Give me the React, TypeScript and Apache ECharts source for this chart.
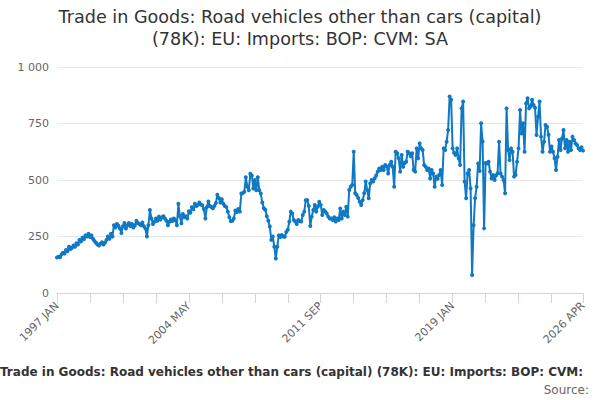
import React, { useEffect, useRef } from "react";
import * as echarts from "echarts";

const titleLines = [
  "Trade in Goods: Road vehicles other than cars (capital)",
  "(78K): EU: Imports: BOP: CVM: SA",
];
const footerText =
  "Trade in Goods: Road vehicles other than cars (capital) (78K): EU: Imports: BOP: CVM:";
const sourceText = "Source:";

const startYear = 1997;
const monthNames = ["JAN", "FEB", "MAR", "APR", "MAY", "JUN", "JUL", "AUG", "SEP", "OCT", "NOV", "DEC"];
const monthCount = 352; // 1997 JAN .. 2026 APR

const values1997to2001 = [
  157, 160, 158, 170, 178, 175, 190, 185, 205, 195, 200, 210,
  205, 220, 215, 235, 228, 245, 238, 255, 250, 262, 248, 255,
  240, 230, 222, 215, 210, 218, 225, 215, 222, 235, 250, 240,
  262, 250, 300, 290, 305, 298, 285, 265, 295, 310, 285, 300,
  310, 295, 305, 290, 300, 320, 310, 305, 300, 312, 295, 285,
];
const values2002to2006 = [
  250, 300, 367, 330, 305, 315, 330, 320, 338, 325, 335, 340,
  330, 320, 300, 315, 325, 318, 330, 322, 300, 395, 340, 308,
  350, 335, 340, 330, 362, 355, 380, 370, 395, 385, 390, 400,
  392, 388, 372, 330, 380, 405, 385, 380, 375, 385, 398, 435,
  420, 400, 415, 395, 385, 380, 360, 335, 318, 320, 330, 365,
];
const values2007to2011 = [
  358, 372, 360, 440, 442, 448, 512, 470, 455, 528, 520, 462,
  500, 455, 512, 455, 440, 400, 375, 368, 340, 320, 294, 235,
  250, 205, 153, 205, 255, 248, 257, 250, 249, 270, 280, 315,
  360, 352, 323, 316, 305, 323, 318, 316, 345, 360, 410, 411,
  385, 296, 338, 367, 389, 360, 382, 404, 389, 345, 367, 360,
];
const values2012to2016 = [
  352, 338, 330, 330, 323, 335, 316, 330, 323, 374, 330, 360,
  345, 382, 338, 456, 470, 478, 625, 441, 434, 420, 404, 389,
  411, 441, 493, 456, 419, 485, 500, 493, 508, 520, 537, 551,
  544, 559, 544, 566, 560, 529, 566, 581, 559, 470, 625, 618,
  596, 537, 611, 559, 575, 581, 625, 618, 605, 618, 544, 537,
];
const values2017to2021 = [
  640, 596, 662, 640, 633, 566, 559, 544, 551, 507, 544, 529,
  470, 515, 505, 522, 544, 478, 640, 633, 669, 721, 869, 855,
  640, 620, 611, 640, 596, 566, 817, 847, 493, 419, 529, 544,
  463, 80, 300, 419, 470, 573, 540, 751, 670, 286, 575, 573,
  581, 537, 507, 522, 500, 520, 530, 669, 529, 515, 500, 441,
];
const values2022to2026 = [
  817, 633, 588, 640, 625, 515, 522, 581, 640, 810, 706, 751,
  625, 839, 862, 817, 825, 855, 832, 820, 699, 780, 847, 692,
  625, 669, 743, 736, 700, 625, 648, 625, 596, 544, 603, 677,
  633, 684, 721, 640, 677, 625, 669, 633, 692, 677, 662, 655,
  640, 633, 645, 630,
];

const seriesValues = [
  ...values1997to2001,
  ...values2002to2006,
  ...values2007to2011,
  ...values2012to2016,
  ...values2017to2021,
  ...values2022to2026,
];

const categories: string[] = [];
for (let i = 0; i < monthCount; i++) {
  categories.push(`${startYear + Math.floor(i / 12)} ${monthNames[i % 12]}`);
}

const labelStep = 88;
const tickStep = 22;

export default function App() {
  const ref = useRef<HTMLDivElement>(null);
  useEffect(() => {
    document.body.style.margin = "0";
    if (!ref.current) return;
    const chart = echarts.init(ref.current, null, { renderer: "svg" });
    const last = categories.length - 1;
    chart.setOption({
      animation: false,
      backgroundColor: "#ffffff",
      textStyle: { fontFamily: "DejaVu Sans" },
      grid: { left: 57, right: 17, top: 67, bottom: 107, containLabel: false },
      graphic: [
        {
          type: "text",
          left: "center",
          top: 8,
          style: {
            text: titleLines[0],
            fontSize: 17.6,
            fill: "#333333",
            fontFamily: "DejaVu Sans",
          },
        },
        {
          type: "text",
          left: "center",
          top: 30,
          style: {
            text: titleLines[1],
            fontSize: 17.6,
            fill: "#333333",
            fontFamily: "DejaVu Sans",
          },
        },
        {
          type: "text",
          left: 0,
          top: 366,
          style: {
            text: footerText,
            fontSize: 12,
            fontWeight: "bold",
            fill: "#333333",
            fontFamily: "DejaVu Sans",
          },
        },
        {
          type: "text",
          right: 11,
          top: 384,
          style: {
            text: sourceText,
            fontSize: 12,
            fill: "#666666",
            fontFamily: "DejaVu Sans",
          },
        },
      ],
      xAxis: [
        {
          type: "category",
          data: categories,
          boundaryGap: false,
          axisLine: { lineStyle: { color: "#ccd6eb", width: 1 } },
          axisTick: { show: false },
          axisLabel: {
            rotate: 45,
            color: "#666666",
            fontSize: 11,
            margin: 11,
            interval: (idx: number) => idx % labelStep === 0 || idx === last,
            showMaxLabel: true,
          },
          splitLine: { show: false },
        },
        {
          type: "value",
          position: "bottom",
          min: 0,
          max: last,
          interval: tickStep,
          axisLine: { show: false },
          axisLabel: { show: false },
          splitLine: { show: false },
          axisTick: { show: true, length: 10, lineStyle: { color: "#ccd6eb", width: 1 } },
        },
      ],
      yAxis: {
        type: "value",
        min: 0,
        max: 1000,
        interval: 250,
        axisLine: { show: false },
        axisTick: { show: false },
        axisLabel: {
          color: "#666666",
          fontSize: 11,
          margin: 8,
          formatter: (v: number) => String(v).replace(/\B(?=(\d{3})+(?!\d))/g, " "),
        },
        splitLine: { lineStyle: { color: "#e6e6e6", width: 1 } },
      },
      series: [
        {
          type: "line",
          xAxisIndex: 0,
          data: seriesValues,
          showSymbol: true,
          showAllSymbol: true,
          symbol: "circle",
          symbolSize: 4,
          itemStyle: { color: "#0f79c3" },
          lineStyle: { color: "#0f79c3", width: 2 },
        },
      ],
    });
    return () => chart.dispose();
  }, []);
  return <div ref={ref} style={{ width: 600, height: 400 }} />;
}
